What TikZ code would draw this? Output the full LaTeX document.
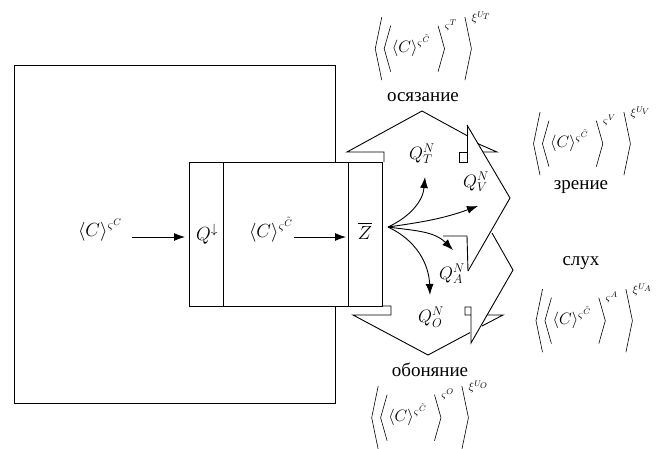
\documentclass[tikz,border=0pt]{standalone}
\usepackage{fix-cm}
\usepackage{amsmath}
\usepackage{fontspec}
\setmainfont{Liberation Serif}
\usetikzlibrary{arrows.meta}
\newcommand{\langd}[1]{\mathopen{\vcenter{\hbox{\tikz\draw[line width=0.6pt,line join=miter] (6.5pt,#1) -- (0pt,0pt) -- (6.5pt,-#1);}}}}
\newcommand{\rangd}[1]{\mathclose{\vcenter{\hbox{\tikz\draw[line width=0.6pt,line join=miter] (0pt,#1) -- (6.5pt,0pt) -- (0pt,-#1);}}}}
\newcommand{\senseform}[1]{$\langd{31.5pt}\mkern2mu\langd{23pt}\mkern1mu\langle C\rangle^{\varsigma^{\tilde C}}\mkern8mu\rangd{23pt}^{\varsigma^{#1}}\mkern8mu\rangd{31.5pt}^{\xi^{U_{#1}}}$}
\begin{document}
\begin{tikzpicture}[x=1pt,y=1pt,line width=0.9pt,
  arr/.style={-{Latex[length=11pt,width=8pt]}},
  lbl/.style={inner sep=0pt,font=\fontsize{19}{22}\selectfont},
  qlbl/.style={inner sep=0pt,font=\fontsize{18}{21}\selectfont},
  frm/.style={inner sep=0pt,font=\fontsize{16.5}{19}\selectfont},
  ]
\useasboundingbox (0,0) rectangle (664,-448);
% big square
\draw (14,-65) rectangle (335,-403);
% inner box
\draw[fill=white] (189,-162) rectangle (382,-306);
\draw (223,-162) -- (223,-306);
\draw (348,-162) -- (348,-306);
% top cap and roof (osyazanie)
\draw (384,-162) -- (384,-152) -- (347,-152) -- (422,-111) -- (467,-135.6);
\draw (477.5,-143.5) -- (497,-152) -- (483,-152);
\draw (459,-162) rectangle (467,-152);
\draw (467,-125) -- (467,-162);
% zrenie
\draw (467,-125) -- (510,-198) -- (468,-271);
\draw (443,-236) -- (467,-236) -- (468,-271);
% sluh
\draw (492,-233) -- (513,-270) -- (471,-343) -- (471,-307) -- (465,-307) -- (465,-315) -- (471,-315);
% bottom cap and roof (obonyanie)
\draw (382,-306) -- (391,-306) -- (391,-315) -- (353,-315) -- (428,-355) -- (470,-332.6);
\draw (482,-326) -- (503,-315) -- (487,-315);
% left labels
\node[lbl] (c1) at (100,-230) {$\langle C\rangle^{\varsigma^{C}}$};
\node[lbl] (qd) at (207,-234) {$Q^{\downarrow}$};
\node[lbl] (c2) at (271,-230) {$\langle C\rangle^{\varsigma^{\tilde C}}$};
\node[lbl] (zb) at (365,-231) {$\overline{Z}$};
\coordinate (a1s) at (132,-237);
\coordinate (a1e) at (185,-237);
\coordinate (a2s) at (294,-237);
\coordinate (a2e) at (346,-237);
\draw[arr] (a1s) -- (a1e);
\draw[arr] (a2s) -- (a2e);
% Q labels
\node[qlbl] (qt) at (422,-154) {$Q_T^N$};
\node[qlbl] (qv) at (476,-182) {$Q_V^N$};
\node[qlbl] (qa) at (452,-274) {$Q_A^N$};
\node[qlbl] (qo) at (431,-317) {$Q_O^N$};
\coordinate (zo) at (388,-227);
\coordinate (tt) at (425,-177);
\coordinate (tv) at (478,-206);
\coordinate (ta) at (453,-250);
\coordinate (to) at (430,-295);
\draw[arr] (zo) to[out=25,in=-95] (tt);
\draw[arr] (zo) to[out=8,in=200] (tv);
\draw[arr] (zo) to[out=-8,in=135] (ta);
\draw[arr] (zo) to[out=-25,in=92] (to);
% sense labels
\node[lbl] (ost) at (423,-97) {осязание};
\node[lbl] (zr) at (581,-187) {зрение};
\node[lbl] (sl) at (581,-263) {слух};
\node[lbl] (ob) at (430,-370) {обоняние};
% formulas
\node[frm] (ft) at (433,-46) {\senseform{T}};
\node[frm] (fv) at (592,-141) {\senseform{V}};
\node[frm] (fa) at (594,-318) {\senseform{A}};
\node[frm] (fo) at (430,-415) {\senseform{O}};
\end{tikzpicture}
\end{document}
